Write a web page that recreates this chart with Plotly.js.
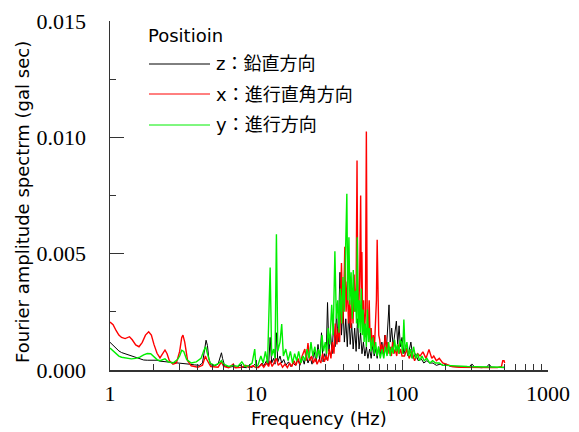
<!DOCTYPE html>
<html>
<head>
<meta charset="utf-8">
<script src="https://cdn.plot.ly/plotly-3.0.1.min.js"></script>
<style>html,body{margin:0;padding:0;background:#fff;}#chart{width:579px;height:432px;}</style>
</head>
<body>
<div id="chart"></div>
<script>
// ---- Data (frequency in Hz, amplitude in gal sec) ----
var seriesNames = ['z：鉛直方向', 'x：進行直角方向', 'y：進行方向'];
var legendTitle = 'Positioin';
var xTitle = 'Frequency (Hz)';
var yTitle = 'Fourier amplitude spectrm (gal sec)';

var zFreq = [1.00,1.05,1.10,1.15,1.20,1.30,1.40,1.50,1.60,1.70,1.80,1.90,2.00,2.10,2.20,2.40,2.60,2.80,3.00,3.20,3.50,3.80,4.10,4.30,4.45,4.55,4.65,4.75,4.90,5.20,5.50,5.70,5.80,5.90,6.10,6.50,7.00,7.40,7.80,8.00,8.60,9.00,9.40,9.80,10.2,
  10.5,11.0,11.3,11.8,12.2,12.5,12.8,13.2,13.5,13.8,14.1,14.6,15.0,15.5,16.0,16.7,17.3,18.0,18.6,19.3,20.0,20.7,21.4,22.0,22.7,23.5,24.2,25.0,25.8,26.6,27.3,28.1,28.8,29.5,30.2,
  30.9,31.6,32.4,33.2,34.0,34.8,35.6,36.5,37.6,38.5,39.4,40.3,41.2,42.2,43.2,44.2,45.2,46.3,47.4,48.5,49.6,50.8,52.0,53.2,54.4,55.7,57.0,58.4,60.0,61.5,63.0,64.5,66.0,67.6,69.2,71.0,72.8,74.6,76.4,78.2,80.0,81.5,83.0,85.0,87.0,89.0,91.5,93.5,95.5,97.5,
  100,103,106,110,115,119,124,129,135,141,148,155,163,172,182,192,200,215,240,270,290,301,315,350,380,395,410,450,500];
var zAmp = [0.00119,0.00105,0.00092,0.00082,0.00075,0.00068,0.00062,0.00055,0.00048,0.00043,0.00042,0.00043,0.00044,0.00042,0.00038,0.00036,0.00034,0.00032,0.00030,0.00028,0.00025,0.00022,0.00020,0.00030,0.00080,0.00128,0.00105,0.00050,0.00022,0.00018,0.00025,0.00060,0.00074,0.00050,0.00018,0.00012,0.00015,0.00010,0.00022,0.00012,0.00010,0.00020,0.00010,0.00025,0.00012,
  0.00015,0.00030,0.00018,0.00040,0.00020,0.00140,0.00030,0.00050,0.00025,0.00160,0.00035,0.00060,0.00030,0.00045,0.00020,0.00035,0.00015,0.00030,0.00020,0.00045,0.00020,0.00055,0.00025,0.00070,0.00030,0.00055,0.00025,0.00080,0.00035,0.00110,0.00040,0.00160,0.00035,0.00070,0.00045,
  0.00290,0.00080,0.00160,0.00070,0.00200,0.00100,0.00250,0.00120,0.00420,0.00150,0.00280,0.00120,0.00220,0.00100,0.00250,0.00110,0.00200,0.00090,0.00180,0.00080,0.00220,0.00090,0.00160,0.00070,0.00120,0.00060,0.00100,0.00050,0.00090,0.00050,0.00110,0.00060,0.00090,0.00050,0.00100,0.00060,0.00120,0.00070,0.00150,0.00090,0.00200,0.00280,0.00120,0.00180,0.00100,0.00160,0.00210,0.00110,0.00190,0.00100,
  0.00140,0.00070,0.00100,0.00060,0.00120,0.00050,0.00070,0.00040,0.00050,0.00030,0.00040,0.00030,0.00030,0.00020,0.00025,0.00020,0.00026,0.00015,0.00012,0.00012,0.00015,0.00026,0.00012,0.00010,0.00012,0.00025,0.00012,0.00010,0.00010];

var xFreq = [1.00,1.05,1.10,1.15,1.20,1.27,1.36,1.42,1.50,1.58,1.66,1.75,1.84,1.92,2.00,2.10,2.20,2.30,2.38,2.46,2.55,2.70,2.85,3.00,3.10,3.16,3.25,3.40,3.60,4.00,4.30,4.50,4.60,4.90,5.50,5.80,6.00,6.50,7.00,7.20,8.00,8.50,9.00,9.50,10.0,
  10.4,10.9,11.3,11.8,12.2,12.5,12.9,13.4,13.8,14.2,14.7,15.2,15.8,16.4,17.0,17.6,18.2,18.8,19.4,20.0,20.7,21.6,22.1,22.7,23.3,24.0,24.7,25.5,26.2,27.0,27.8,28.6,29.4,30.2,31.0,31.8,32.6,33.4,34.2,35.0,35.8,36.6,37.4,
  38.5,39.3,40.0,40.6,41.4,42.2,43.0,43.8,44.6,45.4,46.2,47.0,47.8,48.5,49.2,49.8,50.5,51.3,52.1,52.7,53.1,53.8,54.5,55.3,56.2,57.0,57.8,58.7,59.6,60.5,61.5,62.5,63.6,64.7,65.8,66.8,67.6,68.4,69.3,70.4,71.6,72.8,74.0,75.5,77.0,78.5,80.0,81.5,83.0,84.6,86.2,88.0,90.0,92.0,94.0,96.0,98.0,
  100,104,108,112,117,122,128,133,139,146,153,160,165,172,180,190,200,220,250,300,350,400,450,480,490,500,505];
var xAmp = [0.00206,0.00195,0.00170,0.00150,0.00140,0.00135,0.00143,0.00130,0.00108,0.00100,0.00118,0.00150,0.00164,0.00150,0.00110,0.00072,0.00052,0.00070,0.00086,0.00070,0.00040,0.00025,0.00030,0.00080,0.00140,0.00150,0.00120,0.00040,0.00018,0.00012,0.00020,0.00060,0.00045,0.00015,0.00012,0.00035,0.00015,0.00010,0.00025,0.00010,0.00012,0.00020,0.00010,0.00018,0.00010,
  0.00010,0.00025,0.00012,0.00030,0.00015,0.00040,0.00015,0.00035,0.00050,0.00020,0.00030,0.00012,0.00025,0.00010,0.00030,0.00015,0.00040,0.00020,0.00050,0.00025,0.00060,0.00090,0.00040,0.00116,0.00040,0.00060,0.00030,0.00050,0.00025,0.00045,0.00030,0.00070,0.00035,0.00060,0.00040,0.00090,0.00050,0.00120,0.00070,0.00200,0.00110,0.00180,0.00120,
  0.00460,0.00200,0.00350,0.00530,0.00250,0.00380,0.00200,0.00300,0.00180,0.00320,0.00200,0.00410,0.00250,0.00350,0.00900,0.00300,0.00250,0.00400,0.00750,0.00280,0.00507,0.00200,0.00300,0.00150,0.00250,0.01025,0.00200,0.00150,0.00300,0.00120,0.00180,0.00100,0.00150,0.00090,0.00200,0.00300,0.00560,0.00364,0.00150,0.00130,0.00080,0.00110,0.00070,0.00100,0.00150,0.00080,0.00120,0.00070,0.00100,0.00060,0.00120,0.00070,0.00090,0.00060,0.00110,0.00070,0.00090,
  0.00060,0.00060,0.00090,0.00050,0.00080,0.00040,0.00070,0.00060,0.00078,0.00050,0.00088,0.00050,0.00060,0.00040,0.00050,0.00030,0.00025,0.00015,0.00012,0.00010,0.00010,0.00010,0.00010,0.00015,0.00040,0.00040,0.00030];

var yFreq = [1.00,1.05,1.10,1.15,1.20,1.30,1.40,1.50,1.60,1.70,1.80,1.90,2.00,2.10,2.20,2.38,2.50,2.70,2.90,3.00,3.10,3.20,3.35,3.60,3.90,4.20,4.40,4.52,4.65,4.85,5.20,5.60,5.80,6.00,6.50,7.00,7.50,8.00,8.40,9.00,9.40,9.80,10.0,
  10.3,10.8,11.2,11.6,12.0,12.5,12.8,13.2,13.5,13.8,14.1,14.6,15.0,15.4,16.0,16.6,17.2,17.8,18.4,19.0,19.6,20.3,21.0,21.7,22.4,23.1,23.8,24.5,25.3,26.0,26.8,27.5,28.3,29.0,29.8,30.5,31.2,32.0,33.0,33.8,
  34.7,35.5,36.3,37.0,37.8,38.6,39.4,40.2,41.0,41.9,42.5,43.3,44.0,44.8,45.6,46.4,47.2,48.0,48.8,49.4,50.2,51.0,51.8,52.6,53.4,54.2,55.0,56.0,57.0,58.0,59.0,60.0,61.5,63.0,64.5,66.0,67.5,69.0,71.0,73.0,75.0,77.0,79.0,81.0,83.0,85.0,87.0,89.0,91.0,93.0,95.0,97.0,99.0,
  101,103,105,108,111,114,117,120,124,128,132,137,142,148,155,162,170,180,190,200,220,250,280,320,360,400,450,500];
var yAmp = [0.00094,0.00082,0.00070,0.00060,0.00055,0.00050,0.00048,0.00050,0.00055,0.00065,0.00071,0.00070,0.00058,0.00045,0.00040,0.00048,0.00035,0.00030,0.00045,0.00060,0.00085,0.00080,0.00045,0.00030,0.00035,0.00050,0.00085,0.00100,0.00070,0.00030,0.00020,0.00030,0.00040,0.00025,0.00015,0.00020,0.00015,0.00035,0.00015,0.00020,0.00030,0.00090,0.00015,
  0.00020,0.00060,0.00030,0.00080,0.00030,0.00440,0.00060,0.00090,0.00050,0.00583,0.00080,0.00120,0.00197,0.00060,0.00090,0.00040,0.00080,0.00030,0.00070,0.00040,0.00080,0.00030,0.00060,0.00040,0.00090,0.00050,0.00120,0.00060,0.00100,0.00050,0.00090,0.00060,0.00150,0.00080,0.00120,0.00070,0.00180,0.00110,0.00280,0.00150,
  0.00510,0.00220,0.00300,0.00160,0.00350,0.00200,0.00400,0.00250,0.00450,0.00757,0.00300,0.00570,0.00280,0.00420,0.00220,0.00430,0.00250,0.00340,0.00200,0.00570,0.00180,0.00300,0.00160,0.00350,0.00150,0.00260,0.00120,0.00200,0.00100,0.00260,0.00120,0.00180,0.00080,0.00140,0.00070,0.00120,0.00060,0.00100,0.00050,0.00090,0.00050,0.00100,0.00060,0.00120,0.00060,0.00100,0.00070,0.00130,0.00080,0.00110,0.00070,0.00130,0.00120,
  0.00070,0.00217,0.00080,0.00120,0.00060,0.00090,0.00050,0.00100,0.00050,0.00070,0.00040,0.00060,0.00040,0.00050,0.00030,0.00040,0.00030,0.00030,0.00020,0.00020,0.00018,0.00015,0.00015,0.00014,0.00013,0.00013,0.00012,0.00012];

var xTickVals = [1, 10, 100, 1000];
var xTickText = ['1', '10', '100', '1000'];
var yTickVals = [0, 0.005, 0.010, 0.015];
var yTickText = ['0.000', '0.005', '0.010', '0.015'];

var colors = ['#000000', '#ff0000', '#00ee00'];

// ---- Layout geometry (pixels) ----
var W = 579, H = 432;
var M = {l: 110, r: 31, t: 21, b: 62};
var PW = W - M.l - M.r, PH = H - M.t - M.b;
function px(x) { return (x - M.l) / PW; }
function py(y) { return (H - M.b - y) / PH; }

var minorX = [];
[1, 10, 100].forEach(function (d) { for (var k = 2; k <= 9; k++) minorX.push(k * d); });

var traces = [
  {x: zFreq, y: zAmp, name: seriesNames[0], line: {color: colors[0], width: 1}},
  {x: xFreq, y: xAmp, name: seriesNames[1], line: {color: colors[1], width: 1.4}},
  {x: yFreq, y: yAmp, name: seriesNames[2], line: {color: colors[2], width: 1.4}}
].map(function (t) { t.type = 'scatter'; t.mode = 'lines'; t.showlegend = false; return t; });

var legFont = {family: "'DejaVu Sans', 'Noto Sans CJK JP', sans-serif", size: 18, color: '#000'};
var titleFont = {family: "'DejaVu Sans', Verdana, sans-serif", size: 18, color: '#000'};
var tickFont = {family: "'Liberation Serif', 'Times New Roman', serif", size: 22, color: '#000'};

var legRowsY = [64, 94, 125];
var shapes = [], annotations = [];
annotations.push({xref: 'paper', yref: 'paper', x: px(146), y: py(35), xanchor: 'left', yanchor: 'middle',
  text: legendTitle, showarrow: false, font: legFont});
for (var i = 0; i < 3; i++) {
  shapes.push({type: 'line', xref: 'paper', yref: 'paper', x0: px(149), x1: px(210), y0: py(legRowsY[i]), y1: py(legRowsY[i]),
    line: {color: colors[i], width: 1}});
  annotations.push({xref: 'paper', yref: 'paper', x: px(214), y: py(legRowsY[i]), xanchor: 'left', yanchor: 'middle',
    text: seriesNames[i], showarrow: false, font: legFont});
}
// axis titles
annotations.push({xref: 'paper', yref: 'paper', x: px(319), y: py(418), xanchor: 'center', yanchor: 'middle',
  text: xTitle, showarrow: false, font: titleFont});
annotations.push({xref: 'paper', yref: 'paper', x: px(22), y: py(202), xanchor: 'center', yanchor: 'middle',
  text: yTitle, textangle: -90, showarrow: false, font: titleFont});

var layout = {
  width: W, height: H,
  margin: M,
  paper_bgcolor: '#fff', plot_bgcolor: '#fff',
  showlegend: false,
  xaxis: {
    type: 'log', range: [0, 3],
    showgrid: false, zeroline: false,
    showline: true, linecolor: '#333', linewidth: 1.5,
    tickmode: 'array', tickvals: xTickVals, ticktext: xTickText,
    ticks: 'inside', ticklen: 10, tickcolor: '#333', tickwidth: 1,
    ticklabelstandoff: 3,
    tickfont: tickFont,
    minor: {tickmode: 'array', tickvals: minorX, ticks: 'inside', ticklen: 6, tickcolor: '#333', tickwidth: 1, showgrid: false}
  },
  yaxis: {
    range: [0, 0.015],
    showgrid: false, zeroline: false,
    showline: true, linecolor: '#333', linewidth: 1.5,
    tickmode: 'array', tickvals: yTickVals, ticktext: yTickText,
    ticks: 'inside', ticklen: 14, tickcolor: '#333', tickwidth: 1,
    ticklabelstandoff: 18,
    tickfont: tickFont,
    minor: {tickmode: 'array', tickvals: [0.0025, 0.0075, 0.0125], ticks: 'inside', ticklen: 6, tickcolor: '#333', tickwidth: 1, showgrid: false}
  },
  shapes: shapes,
  annotations: annotations
};

Plotly.newPlot('chart', traces, layout, {displayModeBar: false, staticPlot: true});
</script>
</body>
</html>
